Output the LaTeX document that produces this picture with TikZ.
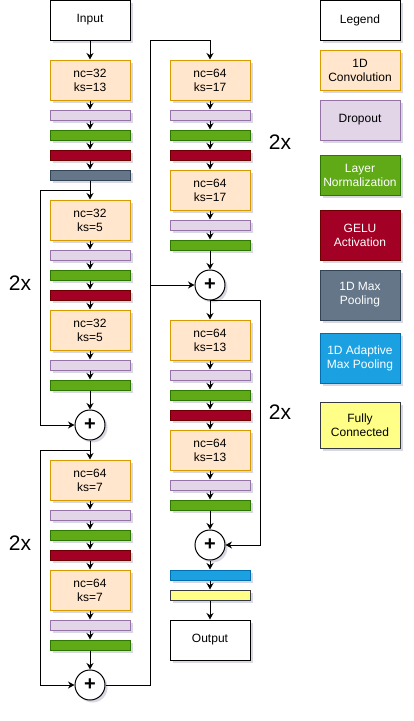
\documentclass[tikz,border=0pt]{standalone}
\usepackage{fontspec}
\setmainfont{Liberation Sans}
\usetikzlibrary{arrows.meta,shadows}
\definecolor{convfill}{HTML}{FFE6CC}\definecolor{convline}{HTML}{D79B00}
\definecolor{dropfill}{HTML}{E1D5E7}\definecolor{dropline}{HTML}{9673A6}
\definecolor{lnfill}{HTML}{60A917}\definecolor{lnline}{HTML}{2D7600}
\definecolor{gelufill}{HTML}{A20025}\definecolor{geluline}{HTML}{6F0000}
\definecolor{mpfill}{HTML}{647687}\definecolor{mpline}{HTML}{314354}
\definecolor{amfill}{HTML}{1BA1E2}\definecolor{amline}{HTML}{006EAF}
\definecolor{fcfill}{HTML}{FFFF88}\definecolor{fcline}{HTML}{36393D}
\definecolor{shad}{HTML}{8C8FA8}
\tikzset{
  base/.style={draw, line width=1pt, minimum width=80pt, inner sep=0pt, align=center,
    font=\fontsize{12}{14}\selectfont,
    drop shadow={shadow xshift=2.5pt, shadow yshift=-2.5pt, opacity=0.35, fill=shad}},
  plainbox/.style={base, fill=white, draw=black, minimum height=40pt},
  convbox/.style={base, fill=convfill, draw=convline, minimum height=40pt},
  dropbox/.style={base, fill=dropfill, draw=dropline, minimum height=10pt},
  lnbox/.style={base, fill=lnfill, draw=lnline, minimum height=10pt, text=white},
  gelubox/.style={base, fill=gelufill, draw=geluline, minimum height=10pt, text=white},
  mpbox/.style={base, fill=mpfill, draw=mpline, minimum height=10pt, text=white},
  ambox/.style={base, fill=amfill, draw=amline, minimum height=10pt, text=white},
  fcbox/.style={base, fill=fcfill, draw=fcline, minimum height=10pt},
  sumnode/.style={circle, draw, line width=1pt, fill=white, minimum size=30pt, inner sep=0pt,
    font=\fontsize{20}{20}\selectfont\bfseries,
    drop shadow={shadow xshift=2.5pt, shadow yshift=-2.5pt, opacity=0.35, fill=shad}},
  rep/.style={font=\fontsize{21}{21}\selectfont},
  arr/.style={-{Stealth[length=6.5pt,width=7pt]}, line width=1pt},
  ln/.style={line width=1pt}
}
\begin{document}
\begin{tikzpicture}[x=1pt,y=-1pt]
\useasboundingbox (0,0) rectangle (413,721);
% left column
\node[plainbox] (in) at (90,20) {Input};
\node[convbox] (c1) at (90,80) {nc=32\\ks=13};
\node[dropbox] (d1) at (90,115) {};
\node[lnbox] (g1) at (90,135) {};
\node[gelubox] (r1) at (90,155) {};
\node[mpbox] (p1) at (90,175) {};
\node[convbox] (c2) at (90,220) {nc=32\\ks=5};
\node[dropbox] (d2) at (90,255) {};
\node[lnbox] (g2) at (90,275) {};
\node[gelubox] (r2) at (90,295) {};
\node[convbox] (c3) at (90,330) {nc=32\\ks=5};
\node[dropbox] (d3) at (90,365) {};
\node[lnbox] (g3) at (90,385) {};
\node[sumnode] (s1) at (90,425) {+};
\node[convbox] (c4) at (90,480) {nc=64\\ks=7};
\node[dropbox] (d4) at (90,515) {};
\node[lnbox] (g4) at (90,535) {};
\node[gelubox] (r4) at (90,555) {};
\node[convbox] (c5) at (90,590) {nc=64\\ks=7};
\node[dropbox] (d5) at (90,625) {};
\node[lnbox] (g5) at (90,645) {};
\node[sumnode] (s2) at (90,685) {+};
% right column
\node[convbox] (c6) at (210,80) {nc=64\\ks=17};
\node[dropbox] (d6) at (210,115) {};
\node[lnbox] (g6) at (210,135) {};
\node[gelubox] (r6) at (210,155) {};
\node[convbox] (c7) at (210,190) {nc=64\\ks=17};
\node[dropbox] (d7) at (210,225) {};
\node[lnbox] (g7) at (210,245) {};
\node[sumnode] (s3) at (210,285) {+};
\node[convbox] (c8) at (210,340) {nc=64\\ks=13};
\node[dropbox] (d8) at (210,375) {};
\node[lnbox] (g8) at (210,395) {};
\node[gelubox] (r8) at (210,415) {};
\node[convbox] (c9) at (210,450) {nc=64\\ks=13};
\node[dropbox] (d9) at (210,485) {};
\node[lnbox] (g9) at (210,505) {};
\node[sumnode] (s4) at (210,545) {+};
\node[ambox] (b1) at (210,575) {};
\node[fcbox] (y1) at (210,595) {};
\node[plainbox] (out) at (210,640) {Output};
% repeat labels
\node[rep] (x1) at (20,283) {2x};
\node[rep] (x2) at (20,543) {2x};
\node[rep] (x3) at (280,142) {2x};
\node[rep] (x4) at (280,412) {2x};
% legend
\node[plainbox] (lg) at (360,20) {Legend};
\node[convbox] (lc) at (360,70) {1D\\Convolution};
\node[dropbox, minimum height=40pt] (ld) at (360,120) {Dropout};
\node[lnbox, minimum height=40pt] (ll) at (360,175) {Layer\\Normalization};
\node[gelubox, minimum height=50pt] (lr) at (360,235) {GELU\\Activation};
\node[mpbox, minimum height=50pt] (lp) at (360,295) {1D Max\\Pooling};
\node[ambox, minimum height=50pt] (la) at (360,358) {1D Adaptive\\Max Pooling};
\node[fcbox, minimum height=46pt] (lf) at (360,425) {Fully\\Connected};
% coordinates for skips
\coordinate (k1) at (90,190);
\coordinate (k2) at (90,450);
\coordinate (k3) at (150,285);
\coordinate (k4) at (210,300);
% connectors left
\draw[arr] (in) -- (c1);
\draw[arr] (c1) -- (d1);
\draw[arr] (d1) -- (g1);
\draw[arr] (g1) -- (r1);
\draw[arr] (r1) -- (p1);
\draw[arr] (p1) -- (c2);
\draw[arr] (k1) -- (40,190) |- (s1.west);
\draw[arr] (c2) -- (d2);
\draw[arr] (d2) -- (g2);
\draw[arr] (g2) -- (r2);
\draw[arr] (r2) -- (c3);
\draw[arr] (c3) -- (d3);
\draw[arr] (d3) -- (g3);
\draw[arr] (g3) -- (s1);
\draw[arr] (s1) -- (c4);
\draw[arr] (k2) -- (40,450) |- (s2.west);
\draw[arr] (c4) -- (d4);
\draw[arr] (d4) -- (g4);
\draw[arr] (g4) -- (r4);
\draw[arr] (r4) -- (c5);
\draw[arr] (c5) -- (d5);
\draw[arr] (d5) -- (g5);
\draw[arr] (g5) -- (s2);
\draw[arr] (s2.east) -- (150,685) -- (150,40) -| (c6.north);
\draw[arr] (k3) -- (s3.west);
% connectors right
\draw[arr] (c6) -- (d6);
\draw[arr] (d6) -- (g6);
\draw[arr] (g6) -- (r6);
\draw[arr] (r6) -- (c7);
\draw[arr] (c7) -- (d7);
\draw[arr] (d7) -- (g7);
\draw[arr] (g7) -- (s3);
\draw[arr] (s3) -- (c8);
\draw[arr] (k4) -- (260,300) |- (s4.east);
\draw[arr] (c8) -- (d8);
\draw[arr] (d8) -- (g8);
\draw[arr] (g8) -- (r8);
\draw[arr] (r8) -- (c9);
\draw[arr] (c9) -- (d9);
\draw[arr] (d9) -- (g9);
\draw[arr] (g9) -- (s4);
\draw[arr] (s4) -- (b1);
\draw[arr] (b1) -- (y1);
\draw[arr] (y1) -- (out);
\end{tikzpicture}
\end{document}
